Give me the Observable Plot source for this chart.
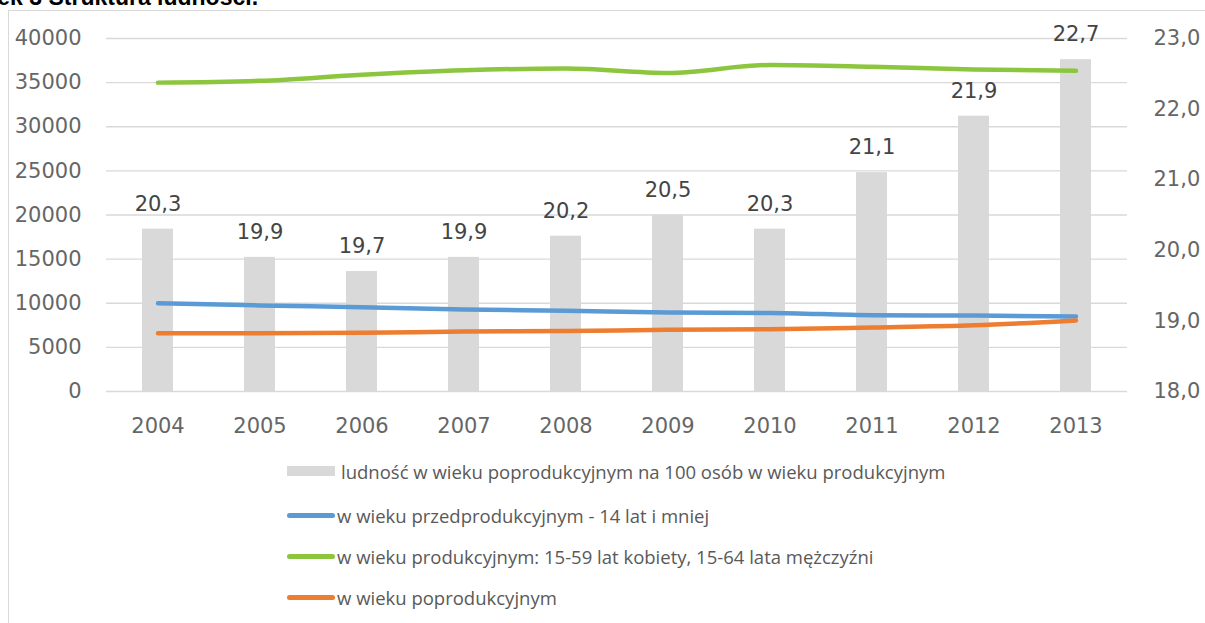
<!DOCTYPE html>
<html>
<head>
<meta charset="utf-8">
<script src="https://cdn.jsdelivr.net/npm/d3@7"></script>
<script src="https://cdn.jsdelivr.net/npm/@observablehq/plot@0.6"></script>
<style>
  html, body { margin: 0; padding: 0; background: #fff; width: 1205px; height: 623px; overflow: hidden; position: relative; }
  #title { position: absolute; left: -73px; top: -14.5px; font: bold 23px "Liberation Sans", Arial, sans-serif; line-height: 23px; color: #000; white-space: nowrap; }
  #frame { position: absolute; left: 8px; top: 10px; width: 1300px; height: 700px; border-left: 1px solid #d9d9d9; border-top: 1px solid #d9d9d9; }
  #chart { position: absolute; left: 0; top: 0; }
  #legend { position: absolute; left: 0; top: 0; width: 1205px; height: 623px; pointer-events: none; }
  .item { position: absolute; left: 287px; height: 20px; font: 18.5px "Open Sans", sans-serif; color: #595959; white-space: nowrap; }
  .sw { position: absolute; left: 0; }
  .lbl { position: absolute; top: 50%; transform: translateY(-50%); }
</style>
</head>
<body>
<div id="title">Rysunek 3 Struktura ludności.</div>
<div id="frame"></div>
<div id="chart"></div>
<div id="legend"></div>
<script>
const years = ["2004","2005","2006","2007","2008","2009","2010","2011","2012","2013"];
const ratio = [20.3, 19.9, 19.7, 19.9, 20.2, 20.5, 20.3, 21.1, 21.9, 22.7];
const pre  = [10000, 9750, 9550, 9300, 9150, 8950, 8900, 8650, 8600, 8500];
const prod = [35000, 35200, 35900, 36400, 36600, 36100, 37000, 36800, 36500, 36350];
const post = [6600, 6600, 6650, 6800, 6850, 7000, 7050, 7250, 7500, 8050];
const leftTicks = [0, 5000, 10000, 15000, 20000, 25000, 30000, 35000, 40000];
const rightTicks = [18, 19, 20, 21, 22, 23];
const seriesNames = [
  "ludność w wieku poprodukcyjnym na 100 osób w wieku produkcyjnym",
  "w wieku przedprodukcyjnym - 14 lat i mniej",
  "w wieku produkcyjnym: 15-59 lat kobiety, 15-64 lata mężczyźni",
  "w wieku poprodukcyjnym"
];
const colors = ["#d9d9d9", "#5b9bd5", "#8cc63e", "#ed7d31"];

const rMin = 18, rMax = 23, lMax = 40000;
const toLeft = v => (v - rMin) / (rMax - rMin) * lMax;
const fmt = v => v.toFixed(1).replace(".", ",");

const barData = years.map((y, i) => ({year: y, v: ratio[i], yl: toLeft(ratio[i])}));
const lineData = (arr) => years.map((y, i) => ({year: y, v: arr[i]}));

const chart = Plot.plot({
  width: 1205,
  height: 440,
  marginLeft: 106,
  marginRight: 78,
  marginTop: 38,
  marginBottom: 49,
  style: {fontFamily: "DejaVu Sans", fontSize: "21px", color: "#666", background: "transparent", overflow: "visible"},
  x: {type: "band", domain: years, paddingInner: 0.7, paddingOuter: 0.35, label: null},
  y: {domain: [0, lMax], label: null},
  marks: [
    Plot.gridY(leftTicks, {stroke: "#d9d9d9", strokeOpacity: 1, strokeWidth: 1.3}),
    Plot.barY(barData, {x: "year", y: "yl", fill: colors[0]}),
    Plot.text(barData, {x: "year", y: "yl", text: d => fmt(d.v), dy: -25, fill: "#444", fontSize: 21}),
    Plot.lineY(lineData(pre), {x: "year", y: "v", stroke: colors[1], strokeWidth: 4.5, curve: "monotone-x", strokeLinecap: "round"}),
    Plot.lineY(lineData(prod), {x: "year", y: "v", stroke: colors[2], strokeWidth: 4.5, curve: "monotone-x", strokeLinecap: "round"}),
    Plot.lineY(lineData(post), {x: "year", y: "v", stroke: colors[3], strokeWidth: 4.5, curve: "monotone-x", strokeLinecap: "round"}),
    Plot.axisY({ticks: leftTicks, tickSize: 0, tickPadding: 25, tickFormat: d => String(d), label: null}),
    Plot.axisY({anchor: "right", ticks: rightTicks.map(toLeft), tickSize: 0, tickPadding: 26,
      tickFormat: d => fmt(rMin + d / lMax * (rMax - rMin)), label: null}),
    Plot.axisX({tickSize: 0, tickPadding: 27, label: null})
  ]
});
document.getElementById("chart").appendChild(chart);

const legend = document.getElementById("legend");
const rowsY = [471, 515, 556, 597];
seriesNames.forEach((name, i) => {
  const item = document.createElement("div");
  item.className = "item";
  item.style.top = (rowsY[i] - 10) + "px";
  const sw = document.createElement("div");
  sw.className = "sw";
  if (i === 0) {
    sw.style.cssText = `left:0;top:5px;width:48px;height:10px;background:${colors[0]}`;
  } else {
    sw.style.cssText = `left:0;top:8px;width:48px;height:4.5px;border-radius:3px;background:${colors[i]}`;
  }
  const lbl = document.createElement("div");
  lbl.className = "lbl";
  lbl.style.left = (i === 0 ? 54 : 50) + "px";
  lbl.textContent = name;
  item.appendChild(sw);
  item.appendChild(lbl);
  legend.appendChild(item);
});
</script>
</body>
</html>
